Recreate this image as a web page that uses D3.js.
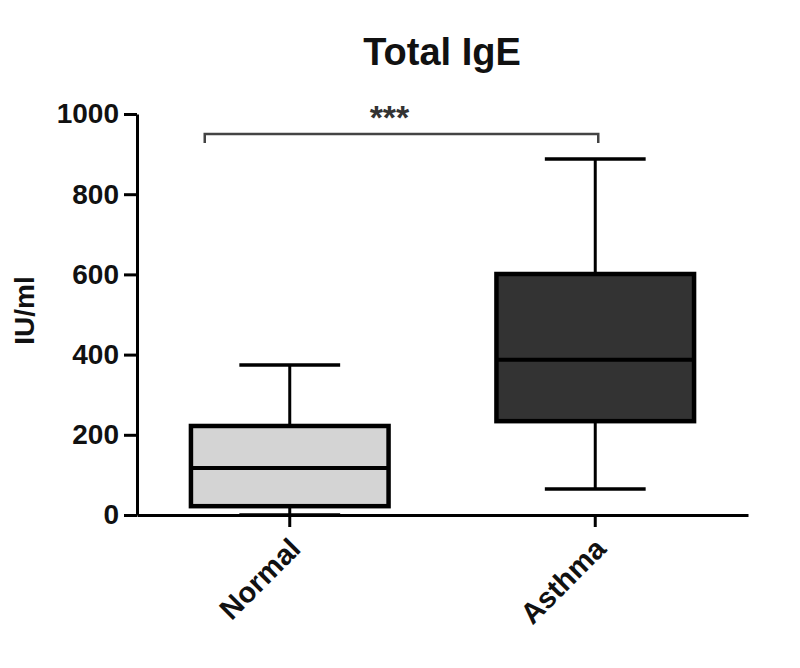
<!DOCTYPE html>
<html>
<head>
<meta charset="utf-8">
<script src="https://cdn.jsdelivr.net/npm/d3@7"></script>
<style>
  body { margin: 0; background: #fff; }
  text { font-family: "Liberation Sans", Arial, sans-serif; font-weight: bold; }
</style>
</head>
<body>
<div id="main"></div>
<script>
// data
const groups = ["Normal", "Asthma"];
const whiskerLow = [0, 65];
const q1 = [22, 234];
const median = [117, 387];
const q3 = [222, 601];
const whiskerHigh = [374, 888];
const yTicks = [0, 200, 400, 600, 800, 1000];
const fills = ["#d4d4d4", "#333333"];

const config = {width: 800, height: 668, left: 137, right: 52, top: 114, bottom: 153};

const svg = d3.select("#main")
  .append("svg")
  .attr("width", config.width)
  .attr("height", config.height);

const xScale = d3.scaleBand()
  .domain(groups)
  .range([config.left, config.width - config.right])
  .paddingInner(0.34)
  .paddingOuter(0.17);

const yScale = d3.scaleLinear()
  .domain([0, 1000])
  .range([config.height - config.bottom, config.top]);

const boxes = groups.map((g, i) => ({
  name: g, lo: whiskerLow[i], q1: q1[i], med: median[i], q3: q3[i], hi: whiskerHigh[i], fill: fills[i]
}));

const bw = xScale.bandwidth();
const capW = bw / 2;

// boxes
const bx = svg.append("g").selectAll("g")
  .data(boxes)
  .join("g")
  .attr("transform", d => `translate(${xScale(d.name) + bw / 2},0)`);

// whiskers
bx.append("line")
  .attr("y1", d => yScale(d.q3)).attr("y2", d => yScale(d.hi))
  .attr("stroke", "#000").attr("stroke-width", 3);
bx.append("line")
  .attr("y1", d => yScale(d.q1)).attr("y2", d => yScale(d.lo))
  .attr("stroke", "#000").attr("stroke-width", 3);
bx.append("line")
  .attr("x1", -capW / 2).attr("x2", capW / 2)
  .attr("y1", d => yScale(d.hi)).attr("y2", d => yScale(d.hi))
  .attr("stroke", "#000").attr("stroke-width", 3.5);
bx.append("line")
  .attr("x1", -capW / 2).attr("x2", capW / 2)
  .attr("y1", d => yScale(d.lo)).attr("y2", d => yScale(d.lo))
  .attr("stroke", "#000").attr("stroke-width", 3.5);

bx.append("rect")
  .attr("x", -bw / 2 + 2)
  .attr("width", bw - 4)
  .attr("y", d => yScale(d.q3))
  .attr("height", d => yScale(d.q1) - yScale(d.q3))
  .attr("fill", d => d.fill)
  .attr("stroke", "#000")
  .attr("stroke-width", 4.5);

bx.append("line")
  .attr("x1", -bw / 2 + 2).attr("x2", bw / 2 - 2)
  .attr("y1", d => yScale(d.med)).attr("y2", d => yScale(d.med))
  .attr("stroke", "#000").attr("stroke-width", 4);

// axes
const yAxis = d3.axisLeft(yScale)
  .tickValues(yTicks)
  .tickFormat(d3.format("d"))
  .tickSize(13)
  .tickSizeOuter(0)
  .tickPadding(5);

const gy = svg.append("g")
  .attr("transform", `translate(${config.left},0)`)
  .call(yAxis);
gy.selectAll("path, line").attr("stroke", "#000").attr("stroke-width", 3);
gy.selectAll("text").attr("font-size", 28).attr("fill", "#111")
  .attr("font-family", "'Liberation Sans', Arial, sans-serif").attr("font-weight", "bold");

const xAxis = d3.axisBottom(xScale)
  .tickSize(12)
  .tickSizeOuter(0)
  .tickPadding(4);

const gx = svg.append("g")
  .attr("transform", `translate(0,${yScale(0)})`)
  .call(xAxis);
gx.selectAll("path, line").attr("stroke", "#000").attr("stroke-width", 3);
gx.selectAll("text")
  .attr("font-size", 29).attr("fill", "#111")
  .attr("font-family", "'Liberation Sans', Arial, sans-serif").attr("font-weight", "bold")
  .attr("text-anchor", "end")
  .attr("dy", "0.35em")
  .attr("transform", "translate(-6,17) rotate(-45)");

// y label
svg.append("text")
  .attr("transform", `translate(34,${(yScale(0) + yScale(1000)) / 2 - 4}) rotate(-90)`)
  .attr("text-anchor", "middle")
  .attr("font-size", 28)
  .attr("fill", "#111")
  .text("IU/ml");

// title
svg.append("text")
  .attr("x", 442)
  .attr("y", 65)
  .attr("text-anchor", "middle")
  .attr("font-size", 38)
  .attr("fill", "#111")
  .text("Total IgE");

// significance bracket
const bracketY = 134;
const x0 = xScale("Normal") + bw / 2 - 85;
const x1 = xScale("Asthma") + bw / 2 + 3;
svg.append("path")
  .attr("d", `M${x0},${bracketY + 9}V${bracketY}H${x1}V${bracketY + 9}`)
  .attr("fill", "none")
  .attr("stroke", "#444")
  .attr("stroke-width", 2.5);

svg.append("text")
  .attr("x", (x0 + x1) / 2 - 12)
  .attr("y", 129)
  .attr("text-anchor", "middle")
  .attr("font-size", 34)
  .attr("fill", "#333")
  .text("***");
</script>
</body>
</html>
